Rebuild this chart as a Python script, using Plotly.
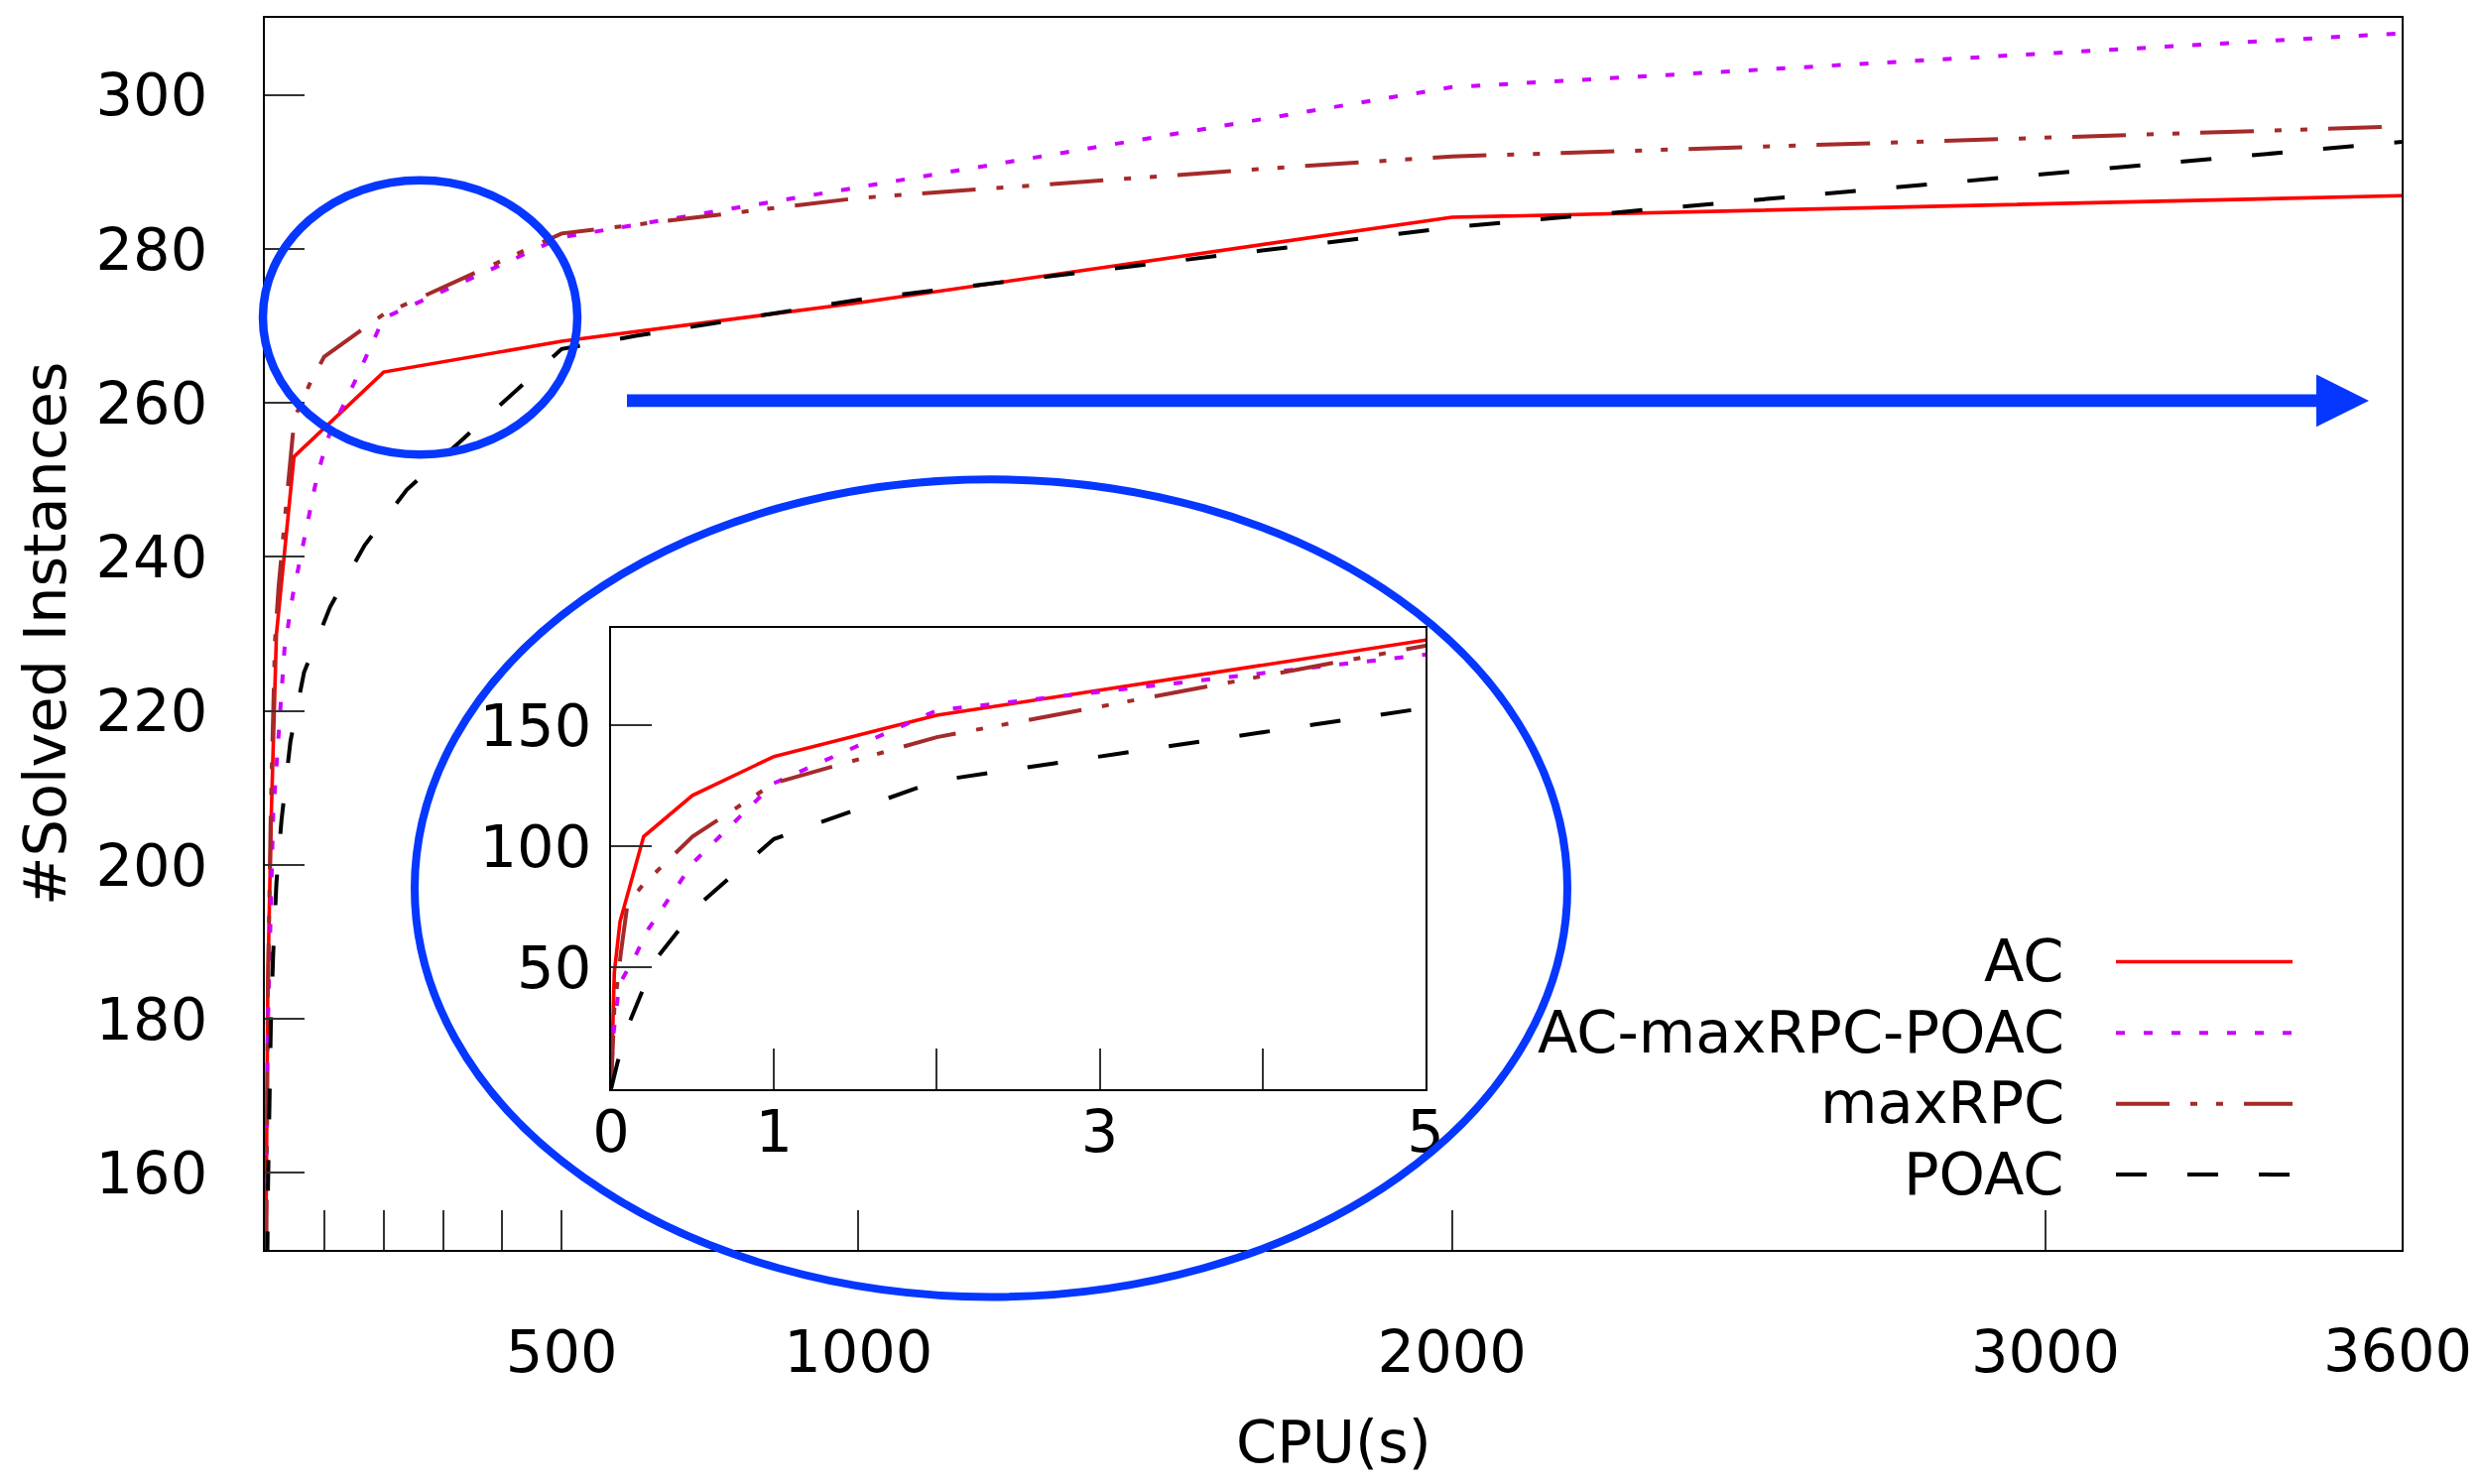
import plotly.graph_objects as go

# ---------------- data (CPU time in s, cumulative #solved instances) ----------------
ac_time = [0, 0.02, 0.055, 0.2, 0.5, 1, 2, 5, 11, 19.5, 49, 200, 500, 1000, 2000, 3600]
ac_solved = [0, 48, 69, 104, 121, 137, 154, 185, 207, 230, 253, 264, 268, 273, 284.1, 286.9]

acmax_time = [0, 0.01, 0.05, 0.15, 0.23, 0.5, 1, 2, 5, 14, 26, 33, 47, 57, 66, 75, 84, 95,
              109, 150, 200, 500, 2000, 3600]
acmax_solved = [0, 20, 43, 55, 66, 93, 126, 156, 179, 206.6, 221, 228, 235, 239, 242, 245.6,
                249, 252.4, 256, 262.5, 271, 281.5, 301, 308]

maxrpc_time = [0, 0.02, 0.06, 0.1, 0.2, 0.5, 1, 2, 5, 10, 17, 23, 35, 47, 52, 77, 100, 200,
               500, 700, 1000, 1700, 2000, 3600]
maxrpc_solved = [0, 33, 56, 76, 84.5, 104, 126, 145, 182.7, 207, 229, 236, 246, 255.8, 258.4,
                 262.7, 266, 271.5, 282, 283.8, 286.6, 290.5, 292, 295.9]

poac_time = [0, 0.04, 0.11, 0.27, 0.54, 1, 2, 5, 7, 10, 14, 19.5, 28, 43, 66, 110, 168, 239,
             328, 417, 500, 625, 1000, 2000, 3600]
poac_solved = [0, 11, 27, 53, 76, 103, 127, 157, 170, 179, 188.5, 197.7, 205.8, 216, 225,
               233.5, 241.5, 248.7, 254.9, 261.1, 267, 268.7, 273.4, 282.8, 293.9]

series_names = ["AC", "AC-maxRPC-POAC", "maxRPC", "POAC"]
series_colors = ["#ff0000", "#cc00ff", "#a52a2a", "#000000"]
series_dash = ["solid", "9px,19px", "54px,21px,7px,19px,7px,21px", "31px,41px"]
series_width = [3.6, 4, 4, 4]

main_tickvals_x = [100, 200, 300, 400, 500, 1000, 2000, 3000, 3600]
main_ticktext_x = ["", "", "", "", "500", "1000", "2000", "3000", ""]
last_tick_label = "3600"   # drawn separately so it stays inside the page edge
main_tickvals_y = [160, 180, 200, 220, 240, 260, 280, 300]
inset_tickvals_x = [0, 1, 2, 3, 4, 5]
inset_ticktext_x = ["0", "1", "", "3", "", "5"]
inset_tickvals_y = [50, 100, 150]

# ---------------- geometry (page pixels; the page body has an 8px margin) ----------------
OFF = 8
PAGE_W, PAGE_H = 2501, 1496
W, H = PAGE_W - 2 * OFF, PAGE_H - 2 * OFF
L, R, T, B = 267, 2421, 16, 1260          # plot area in page pixels
PW, PH = R - L, B - T


def px(xp):
    return (xp - L) / PW


def py(yp):
    return (B - yp) / PH


FONT = "DejaVu Sans"
FS = 59
BLUE = "#0537ff"

fig = go.Figure()
data = [(ac_time, ac_solved), (acmax_time, acmax_solved),
        (maxrpc_time, maxrpc_solved), (poac_time, poac_solved)]

for (t, v), name, col, dash, lw in zip(data, series_names, series_colors, series_dash, series_width):
    fig.add_trace(go.Scatter(x=t, y=v, mode="lines", name=name, showlegend=False,
                             line=dict(color=col, dash=dash, width=lw), xaxis="x", yaxis="y"))
for (t, v), name, col, dash, lw in zip(data, series_names, series_colors, series_dash, series_width):
    fig.add_trace(go.Scatter(x=t, y=v, mode="lines", name=name, showlegend=False,
                             line=dict(color=col, dash=dash, width=lw), xaxis="x2", yaxis="y2"))

axis_common = dict(showline=True, linecolor="black", linewidth=2, mirror=True,
                   ticks="inside", tickcolor="#333333", tickwidth=1.6,
                   showgrid=False, zeroline=False,
                   tickfont=dict(family=FONT, size=FS, color="black"))

fig.update_layout(
    width=W, height=H,
    margin=dict(l=L - OFF, r=PAGE_W - OFF - R, t=T - OFF, b=PAGE_H - OFF - B, pad=0),
    paper_bgcolor="white", plot_bgcolor="white",
    showlegend=False,
    xaxis=dict(range=[0, 3600], domain=[0, 1], anchor="y",
               tickmode="array", tickvals=main_tickvals_x, ticktext=main_ticktext_x,
               ticklen=40, ticklabelstandoff=50, **axis_common),
    yaxis=dict(range=[150, 310], domain=[0, 1], anchor="x",
               tickmode="array", tickvals=main_tickvals_y,
               ticklen=40, ticklabelstandoff=44, **axis_common),
    xaxis2=dict(range=[0, 5], domain=[px(616), px(1437)], anchor="y2",
                tickmode="array", tickvals=inset_tickvals_x, ticktext=inset_ticktext_x,
                ticklen=41, ticklabelstandoff=-10, **axis_common),
    yaxis2=dict(range=[0, 190], domain=[py(1097.5), py(632)], anchor="x2",
                tickmode="array", tickvals=inset_tickvals_y,
                ticklen=41, ticklabelstandoff=6, **axis_common),
)

shapes = []
# small ellipse
shapes.append(dict(type="circle", xref="paper", yref="paper",
                   x0=px(265), x1=px(582), y0=py(457), y1=py(180),
                   line=dict(color=BLUE, width=8.5), layer="above"))
# big ellipse
shapes.append(dict(type="circle", xref="paper", yref="paper",
                   x0=px(418), x1=px(1580), y0=py(1307.5), y1=py(482),
                   line=dict(color=BLUE, width=8), layer="above"))
# arrow shaft
shapes.append(dict(type="rect", xref="paper", yref="paper",
                   x0=px(632), x1=px(2338), y0=py(409), y1=py(396),
                   line=dict(width=0), fillcolor=BLUE, layer="above"))
# arrow head
hx0, hx1, hyc, hh = px(2335), px(2388), py(402.5), 26.5 / PH
shapes.append(dict(type="path", xref="paper", yref="paper",
                   path=f"M {hx0} {hyc + hh} L {hx1} {hyc} L {hx0} {hyc - hh} Z",
                   line=dict(width=0), fillcolor=BLUE, layer="above"))

annotations = []
# manual legend
leg_y = [969, 1041, 1112.5, 1184]
for name, col, dash, lw, yy in zip(series_names, series_colors, series_dash, series_width, leg_y):
    shapes.append(dict(type="line", xref="paper", yref="paper",
                       x0=px(2133), x1=px(2311), y0=py(yy), y1=py(yy),
                       line=dict(color=col, dash=dash, width=lw)))
    annotations.append(dict(text=name, xref="paper", yref="paper", x=px(2083), y=py(yy - 1),
                            xanchor="right", yanchor="middle", showarrow=False,
                            font=dict(family=FONT, size=FS, color="black")))

# last x tick label (kept within the page width)
annotations.append(dict(text=last_tick_label, xref="paper", yref="paper", x=px(2493), y=py(1362),
                        xanchor="right", yanchor="middle", showarrow=False, borderpad=0,
                        font=dict(family=FONT, size=FS, color="black")))

# axis titles
annotations.append(dict(text="CPU(s)", xref="paper", yref="paper", x=px(1344), y=py(1454),
                        xanchor="center", yanchor="middle", showarrow=False,
                        font=dict(family=FONT, size=FS, color="black")))
annotations.append(dict(text="#Solved Instances", xref="paper", yref="paper", x=px(45), y=py(638),
                        xanchor="center", yanchor="middle", showarrow=False, textangle=-90,
                        font=dict(family=FONT, size=FS, color="black")))

fig.update_layout(shapes=shapes, annotations=annotations)
fig.write_html("out.html", config={"displayModeBar": False})
